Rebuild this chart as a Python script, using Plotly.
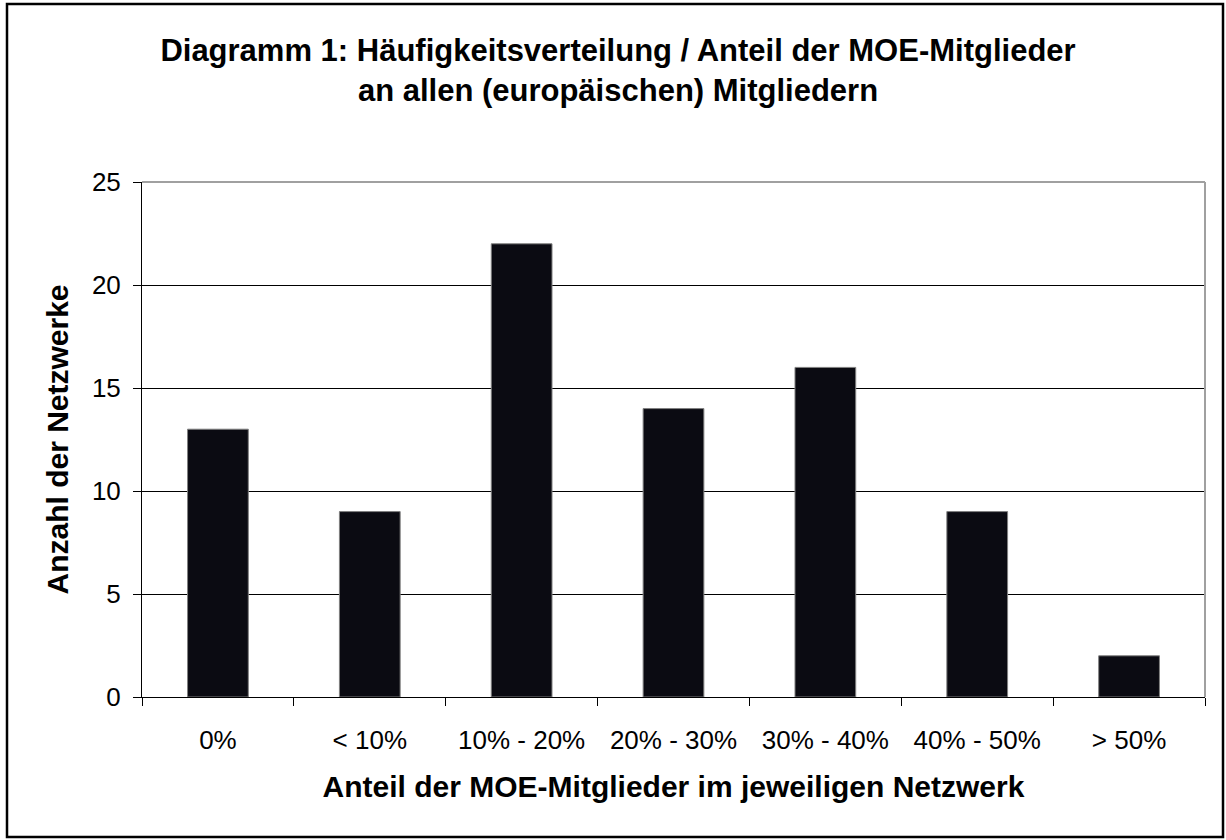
import plotly.graph_objects as go

categories = ["0%", "< 10%", "10% - 20%", "20% - 30%", "30% - 40%", "40% - 50%", "> 50%"]
counts = [13, 9, 22, 14, 16, 9, 2]
y_ticks = [0, 5, 10, 15, 20, 25]

W, H = 1226, 840
L, R, T, B = 142, 21, 182, 143
pw, ph = W - L - R, H - T - B

def px(x):
    return (x - L) / pw

def py(y):
    return (H - B - y) / ph

fig = go.Figure(go.Bar(
    x=categories, y=counts, width=0.4,
    marker=dict(color="#0b0b12", line=dict(color="#808080", width=1)),
))

fig.update_layout(
    width=W, height=H,
    margin=dict(l=L, r=R, t=T, b=B),
    paper_bgcolor="white", plot_bgcolor="white",
    font=dict(family="Liberation Sans, Arial, sans-serif", color="black", size=26),
    showlegend=False,
    title=dict(
        text="<b>Diagramm 1: Häufigkeitsverteilung / Anteil der MOE-Mitglieder<br>an allen (europäischen) Mitgliedern</b>",
        x=px(618), xanchor="center", xref="paper",
        y=1 - 61 / H, yanchor="middle",
        font=dict(size=31),
    ),
    xaxis=dict(
        tickson="boundaries", ticks="outside", ticklen=8, tickcolor="black",
        showline=True, linecolor="black", linewidth=1,
        tickfont=dict(size=26), ticklabelstandoff=20,
        title=dict(text="<b>Anteil der MOE-Mitglieder im jeweiligen Netzwerk</b>", font=dict(size=30), standoff=21),
        range=[-0.5, 6.5],
    ),
    yaxis=dict(
        range=[0, 25], tickvals=y_ticks, ticks="outside", ticklen=8, tickcolor="black",
        showline=True, linecolor="black", linewidth=1,
        showgrid=True, gridcolor="black", gridwidth=1,
        zeroline=False,
        tickfont=dict(size=26), ticklabelstandoff=7,
        title=dict(text="<b>Anzahl der Netzwerke</b>", font=dict(size=30), standoff=14),
    ),
    shapes=[
        dict(type="line", xref="paper", yref="paper", x0=0, x1=1, y0=1, y1=1,
             line=dict(color="#a0a0a0", width=2), layer="above"),
        dict(type="line", xref="paper", yref="paper", x0=1, x1=1, y0=0, y1=1,
             line=dict(color="#a0a0a0", width=2), layer="above"),
        dict(type="rect", xref="paper", yref="paper",
             x0=px(7), x1=px(1223), y0=py(837), y1=py(4),
             line=dict(color="black", width=2.5), fillcolor="rgba(0,0,0,0)", layer="above"),
    ],
)

fig.write_html(
    "out.html",
    config={"displayModeBar": False},
    post_script="document.body.style.margin='0';document.body.style.overflow='hidden';",
)
